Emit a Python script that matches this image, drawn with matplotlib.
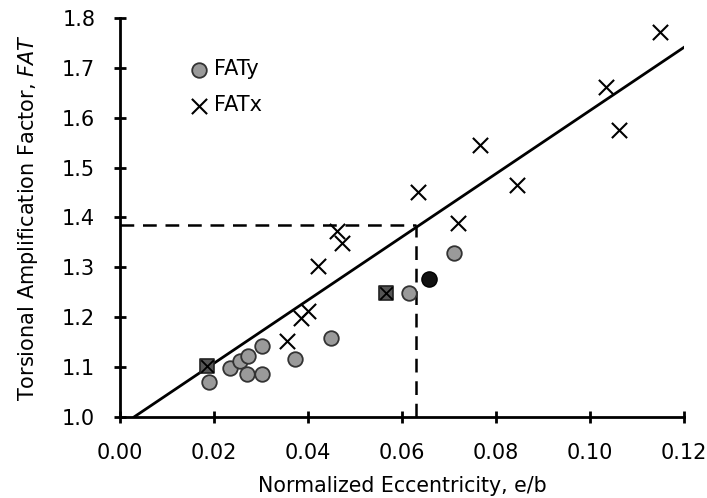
import numpy as np
import matplotlib.pyplot as plt

plt.rcParams['font.family'] = ['DejaVu Sans']

# FATx points (x markers)
fatx_e = [0.1149, 0.1034, 0.1062, 0.0766, 0.0844, 0.0634, 0.0720, 0.0462,
          0.0472, 0.0421, 0.0401, 0.0384, 0.0355]
fatx_v = [1.772, 1.662, 1.576, 1.546, 1.465, 1.451, 1.389, 1.372,
          1.349, 1.303, 1.213, 1.199, 1.153]

# FATy points (circles)
faty_e = [0.0190, 0.0234, 0.0255, 0.0273, 0.0270, 0.0301, 0.0301, 0.0372,
          0.0450, 0.0616, 0.0711]
faty_v = [1.069, 1.097, 1.111, 1.121, 1.085, 1.143, 1.085, 1.116,
          1.158, 1.249, 1.329]

# highlighted point (black)
black_e = [0.0658]
black_v = [1.276]

# both FATx and FATy at same spot
both_e = [0.0185, 0.0566]
both_v = [1.102, 1.249]

# fit line
slope = 6.33
intercept = 0.981
e_line = np.array([0.003, 0.12])

# design point
e_d = 0.063
fat_d = 1.385

fig = plt.figure(figsize=(7.07, 4.98), dpi=100)
ax = fig.add_axes([0.170, 0.163, 0.797, 0.801])

ax.plot(e_line, slope * e_line + intercept, color='black', lw=2, zorder=2)
ax.plot([0, e_d], [fat_d, fat_d], color='black', lw=1.8, ls=(0, (5.5, 3.5)), zorder=2)
ax.plot([e_d, e_d], [1.0, fat_d], color='black', lw=1.8, ls=(0, (5.5, 3.5)), zorder=2)

ax.scatter(faty_e, faty_v, s=110, c='#9a9a9a', edgecolors='#333333', linewidths=1.3,
           label='FATy', zorder=3)
ax.scatter(fatx_e, fatx_v, s=120, marker='x', c='black', linewidths=1.5,
           label='FATx', zorder=3)
ax.scatter(black_e, black_v, s=120, c='#111111', edgecolors='black', zorder=3)
ax.scatter(both_e, both_v, s=110, marker='s', c='#555555', edgecolors='#222222',
           linewidths=1.2, zorder=3)
ax.scatter(both_e, both_v, s=80, marker='x', c='black', linewidths=1.3, zorder=4)

ax.set_xlim(0, 0.12)
ax.set_ylim(1.0, 1.8)
ax.set_xticks(np.arange(0, 0.121, 0.02))
ax.set_yticks(np.arange(1.0, 1.81, 0.1))
ax.set_xticklabels(['%.2f' % v for v in np.arange(0, 0.121, 0.02)], fontsize=15)
ax.set_yticklabels(['%.1f' % v for v in np.arange(1.0, 1.81, 0.1)], fontsize=15)

for s in ['top', 'right']:
    ax.spines[s].set_visible(False)
for s in ['left', 'bottom']:
    ax.spines[s].set_linewidth(2)
ax.tick_params(axis='x', direction='inout', length=8, width=2, labelsize=15, pad=15)
ax.tick_params(axis='y', direction='inout', length=8, width=2, labelsize=15, pad=14)

ax.set_xlabel('Normalized Eccentricity, e/b', fontsize=14.8, labelpad=9)
ax.set_ylabel('Torsional Amplification Factor, $\\mathit{FAT}$', fontsize=15,
              labelpad=16)

ax.legend(loc='upper left', bbox_to_anchor=(0.1, 0.922), frameon=False, fontsize=15,
          handletextpad=0.1, borderpad=0, labelspacing=0.75, handlelength=1.2)

fig.savefig('out.png')
